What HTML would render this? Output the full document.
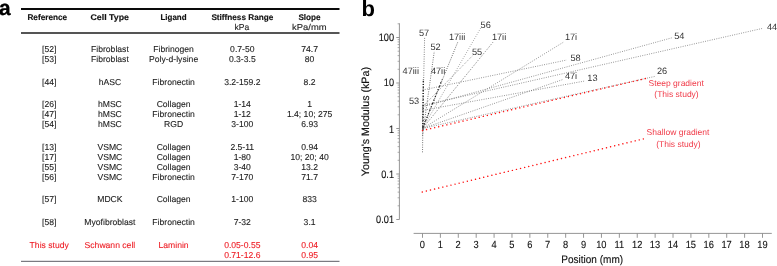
<!DOCTYPE html>
<html><head><meta charset="utf-8"><style>html,body{margin:0;padding:0;background:#fff;}svg{display:block;will-change:transform;text-rendering:geometricPrecision;font-family:"Liberation Sans",sans-serif;}</style></head>
<body>
<svg width="777" height="266" viewBox="0 0 777 266" font-family="Liberation Sans, sans-serif">
<rect width="777" height="266" fill="#fff"/>
<text x="-1.0" y="15.1" font-size="20.9" font-weight="bold" fill="#000" stroke="#000" stroke-width="0.3">a</text>
<text x="361.6" y="15.8" font-size="22" font-weight="bold" fill="#000">b</text>
<rect x="21" y="8" width="318.5" height="2" fill="#0a0a0a"/>
<rect x="21" y="32" width="318.5" height="2" fill="#555"/>
<rect x="21" y="260.8" width="318.5" height="1.1" fill="#6c6c74"/>
<text x="27.40" y="19.9" font-size="8.2" font-weight="bold" fill="#111" stroke="#111" stroke-width="0.15" textLength="39.76" lengthAdjust="spacingAndGlyphs">Reference</text>
<text x="90.48" y="19.9" font-size="8.2" font-weight="bold" fill="#111" stroke="#111" stroke-width="0.15" textLength="38.50" lengthAdjust="spacingAndGlyphs">Cell Type</text>
<text x="160.52" y="19.9" font-size="8.2" font-weight="bold" fill="#111" stroke="#111" stroke-width="0.15" textLength="26.04" lengthAdjust="spacingAndGlyphs">Ligand</text>
<text x="211.40" y="19.9" font-size="8.2" font-weight="bold" fill="#111" stroke="#111" stroke-width="0.15" textLength="61.87" lengthAdjust="spacingAndGlyphs">Stiffness Range</text>
<text x="298.40" y="19.9" font-size="8.2" font-weight="bold" fill="#111" stroke="#111" stroke-width="0.15" textLength="22.22" lengthAdjust="spacingAndGlyphs">Slope</text>
<text x="234.50" y="29.7" font-size="8.6" font-weight="normal" fill="#222" stroke="#222" stroke-width="0.1" textLength="14.72" lengthAdjust="spacingAndGlyphs">kPa</text>
<text x="292.14" y="29.7" font-size="8.6" font-weight="normal" fill="#222" stroke="#222" stroke-width="0.1" textLength="34.55" lengthAdjust="spacingAndGlyphs">kPa/mm</text>
<text x="49.2" y="51.8" font-size="8.6" fill="#222" stroke="#222" stroke-width="0.1" text-anchor="middle">[52]</text>
<text x="109.9" y="51.8" font-size="8.6" fill="#222" stroke="#222" stroke-width="0.1" text-anchor="middle">Fibroblast</text>
<text x="173.6" y="51.8" font-size="8.6" fill="#222" stroke="#222" stroke-width="0.1" text-anchor="middle">Fibrinogen</text>
<text x="242.3" y="51.8" font-size="8.6" fill="#222" stroke="#222" stroke-width="0.1" text-anchor="middle">0.7-50</text>
<text x="309.6" y="51.8" font-size="8.6" fill="#222" stroke="#222" stroke-width="0.1" text-anchor="middle">74.7</text>
<text x="49.2" y="61.6" font-size="8.6" fill="#222" stroke="#222" stroke-width="0.1" text-anchor="middle">[53]</text>
<text x="109.9" y="61.6" font-size="8.6" fill="#222" stroke="#222" stroke-width="0.1" text-anchor="middle">Fibroblast</text>
<text x="173.6" y="61.6" font-size="8.6" fill="#222" stroke="#222" stroke-width="0.1" text-anchor="middle">Poly-d-lysine</text>
<text x="242.3" y="61.6" font-size="8.6" fill="#222" stroke="#222" stroke-width="0.1" text-anchor="middle">0.3-3.5</text>
<text x="309.6" y="61.6" font-size="8.6" fill="#222" stroke="#222" stroke-width="0.1" text-anchor="middle">80</text>
<text x="49.2" y="84.8" font-size="8.6" fill="#222" stroke="#222" stroke-width="0.1" text-anchor="middle">[44]</text>
<text x="109.9" y="84.8" font-size="8.6" fill="#222" stroke="#222" stroke-width="0.1" text-anchor="middle">hASC</text>
<text x="173.6" y="84.8" font-size="8.6" fill="#222" stroke="#222" stroke-width="0.1" text-anchor="middle">Fibronectin</text>
<text x="242.3" y="84.8" font-size="8.6" fill="#222" stroke="#222" stroke-width="0.1" text-anchor="middle">3.2-159.2</text>
<text x="309.6" y="84.8" font-size="8.6" fill="#222" stroke="#222" stroke-width="0.1" text-anchor="middle">8.2</text>
<text x="49.2" y="106.6" font-size="8.6" fill="#222" stroke="#222" stroke-width="0.1" text-anchor="middle">[26]</text>
<text x="109.9" y="106.6" font-size="8.6" fill="#222" stroke="#222" stroke-width="0.1" text-anchor="middle">hMSC</text>
<text x="173.6" y="106.6" font-size="8.6" fill="#222" stroke="#222" stroke-width="0.1" text-anchor="middle">Collagen</text>
<text x="242.3" y="106.6" font-size="8.6" fill="#222" stroke="#222" stroke-width="0.1" text-anchor="middle">1-14</text>
<text x="309.6" y="106.6" font-size="8.6" fill="#222" stroke="#222" stroke-width="0.1" text-anchor="middle">1</text>
<text x="49.2" y="116.5" font-size="8.6" fill="#222" stroke="#222" stroke-width="0.1" text-anchor="middle">[47]</text>
<text x="109.9" y="116.5" font-size="8.6" fill="#222" stroke="#222" stroke-width="0.1" text-anchor="middle">hMSC</text>
<text x="173.6" y="116.5" font-size="8.6" fill="#222" stroke="#222" stroke-width="0.1" text-anchor="middle">Fibronectin</text>
<text x="242.3" y="116.5" font-size="8.6" fill="#222" stroke="#222" stroke-width="0.1" text-anchor="middle">1-12</text>
<text x="309.6" y="116.5" font-size="8.6" fill="#222" stroke="#222" stroke-width="0.1" text-anchor="middle">1.4; 10; 275</text>
<text x="49.2" y="126.9" font-size="8.6" fill="#222" stroke="#222" stroke-width="0.1" text-anchor="middle">[54]</text>
<text x="109.9" y="126.9" font-size="8.6" fill="#222" stroke="#222" stroke-width="0.1" text-anchor="middle">hMSC</text>
<text x="173.6" y="126.9" font-size="8.6" fill="#222" stroke="#222" stroke-width="0.1" text-anchor="middle">RGD</text>
<text x="242.3" y="126.9" font-size="8.6" fill="#222" stroke="#222" stroke-width="0.1" text-anchor="middle">3-100</text>
<text x="309.6" y="126.9" font-size="8.6" fill="#222" stroke="#222" stroke-width="0.1" text-anchor="middle">6.93</text>
<text x="49.2" y="149.5" font-size="8.6" fill="#222" stroke="#222" stroke-width="0.1" text-anchor="middle">[13]</text>
<text x="109.9" y="149.5" font-size="8.6" fill="#222" stroke="#222" stroke-width="0.1" text-anchor="middle">VSMC</text>
<text x="173.6" y="149.5" font-size="8.6" fill="#222" stroke="#222" stroke-width="0.1" text-anchor="middle">Collagen</text>
<text x="242.3" y="149.5" font-size="8.6" fill="#222" stroke="#222" stroke-width="0.1" text-anchor="middle">2.5-11</text>
<text x="309.6" y="149.5" font-size="8.6" fill="#222" stroke="#222" stroke-width="0.1" text-anchor="middle">0.94</text>
<text x="49.2" y="160.2" font-size="8.6" fill="#222" stroke="#222" stroke-width="0.1" text-anchor="middle">[17]</text>
<text x="109.9" y="160.2" font-size="8.6" fill="#222" stroke="#222" stroke-width="0.1" text-anchor="middle">VSMC</text>
<text x="173.6" y="160.2" font-size="8.6" fill="#222" stroke="#222" stroke-width="0.1" text-anchor="middle">Collagen</text>
<text x="242.3" y="160.2" font-size="8.6" fill="#222" stroke="#222" stroke-width="0.1" text-anchor="middle">1-80</text>
<text x="309.6" y="160.2" font-size="8.6" fill="#222" stroke="#222" stroke-width="0.1" text-anchor="middle">10; 20; 40</text>
<text x="49.2" y="170.1" font-size="8.6" fill="#222" stroke="#222" stroke-width="0.1" text-anchor="middle">[55]</text>
<text x="109.9" y="170.1" font-size="8.6" fill="#222" stroke="#222" stroke-width="0.1" text-anchor="middle">VSMC</text>
<text x="173.6" y="170.1" font-size="8.6" fill="#222" stroke="#222" stroke-width="0.1" text-anchor="middle">Collagen</text>
<text x="242.3" y="170.1" font-size="8.6" fill="#222" stroke="#222" stroke-width="0.1" text-anchor="middle">3-40</text>
<text x="309.6" y="170.1" font-size="8.6" fill="#222" stroke="#222" stroke-width="0.1" text-anchor="middle">13.2</text>
<text x="49.2" y="180.1" font-size="8.6" fill="#222" stroke="#222" stroke-width="0.1" text-anchor="middle">[56]</text>
<text x="109.9" y="180.1" font-size="8.6" fill="#222" stroke="#222" stroke-width="0.1" text-anchor="middle">VSMC</text>
<text x="173.6" y="180.1" font-size="8.6" fill="#222" stroke="#222" stroke-width="0.1" text-anchor="middle">Fibronectin</text>
<text x="242.3" y="180.1" font-size="8.6" fill="#222" stroke="#222" stroke-width="0.1" text-anchor="middle">7-170</text>
<text x="309.6" y="180.1" font-size="8.6" fill="#222" stroke="#222" stroke-width="0.1" text-anchor="middle">71.7</text>
<text x="49.2" y="202.1" font-size="8.6" fill="#222" stroke="#222" stroke-width="0.1" text-anchor="middle">[57]</text>
<text x="109.9" y="202.1" font-size="8.6" fill="#222" stroke="#222" stroke-width="0.1" text-anchor="middle">MDCK</text>
<text x="173.6" y="202.1" font-size="8.6" fill="#222" stroke="#222" stroke-width="0.1" text-anchor="middle">Collagen</text>
<text x="242.3" y="202.1" font-size="8.6" fill="#222" stroke="#222" stroke-width="0.1" text-anchor="middle">1-100</text>
<text x="309.6" y="202.1" font-size="8.6" fill="#222" stroke="#222" stroke-width="0.1" text-anchor="middle">833</text>
<text x="49.2" y="225.2" font-size="8.6" fill="#222" stroke="#222" stroke-width="0.1" text-anchor="middle">[58]</text>
<text x="109.9" y="225.2" font-size="8.6" fill="#222" stroke="#222" stroke-width="0.1" text-anchor="middle">Myofibroblast</text>
<text x="173.6" y="225.2" font-size="8.6" fill="#222" stroke="#222" stroke-width="0.1" text-anchor="middle">Fibronectin</text>
<text x="242.3" y="225.2" font-size="8.6" fill="#222" stroke="#222" stroke-width="0.1" text-anchor="middle">7-32</text>
<text x="309.6" y="225.2" font-size="8.6" fill="#222" stroke="#222" stroke-width="0.1" text-anchor="middle">3.1</text>
<text x="49.2" y="248.2" font-size="8.6" fill="#ee1c24" stroke="#ee1c24" stroke-width="0.1" text-anchor="middle">This study</text>
<text x="109.9" y="248.2" font-size="8.6" fill="#ee1c24" stroke="#ee1c24" stroke-width="0.1" text-anchor="middle">Schwann cell</text>
<text x="173.6" y="248.2" font-size="8.6" fill="#ee1c24" stroke="#ee1c24" stroke-width="0.1" text-anchor="middle">Laminin</text>
<text x="242.3" y="248.2" font-size="8.6" fill="#ee1c24" stroke="#ee1c24" stroke-width="0.1" text-anchor="middle">0.05-0.55</text>
<text x="309.6" y="248.2" font-size="8.6" fill="#ee1c24" stroke="#ee1c24" stroke-width="0.1" text-anchor="middle">0.04</text>
<text x="242.3" y="258.0" font-size="8.6" fill="#ee1c24" stroke="#ee1c24" stroke-width="0.1" text-anchor="middle">0.71-12.6</text>
<text x="309.6" y="258.0" font-size="8.6" fill="#ee1c24" stroke="#ee1c24" stroke-width="0.1" text-anchor="middle">0.95</text>
<line x1="399.4" y1="23.3" x2="399.4" y2="219.5" stroke="#8a8a8a" stroke-width="0.9"/>
<line x1="396.3" y1="219.50" x2="399.4" y2="219.50" stroke="#8a8a8a" stroke-width="0.9"/>
<line x1="397.6" y1="205.80" x2="399.4" y2="205.80" stroke="#8a8a8a" stroke-width="0.7"/>
<line x1="397.6" y1="197.79" x2="399.4" y2="197.79" stroke="#8a8a8a" stroke-width="0.7"/>
<line x1="397.6" y1="192.11" x2="399.4" y2="192.11" stroke="#8a8a8a" stroke-width="0.7"/>
<line x1="397.6" y1="187.70" x2="399.4" y2="187.70" stroke="#8a8a8a" stroke-width="0.7"/>
<line x1="397.6" y1="184.09" x2="399.4" y2="184.09" stroke="#8a8a8a" stroke-width="0.7"/>
<line x1="397.6" y1="181.05" x2="399.4" y2="181.05" stroke="#8a8a8a" stroke-width="0.7"/>
<line x1="397.6" y1="178.41" x2="399.4" y2="178.41" stroke="#8a8a8a" stroke-width="0.7"/>
<line x1="397.6" y1="176.08" x2="399.4" y2="176.08" stroke="#8a8a8a" stroke-width="0.7"/>
<line x1="396.3" y1="174.00" x2="399.4" y2="174.00" stroke="#8a8a8a" stroke-width="0.9"/>
<line x1="397.6" y1="160.30" x2="399.4" y2="160.30" stroke="#8a8a8a" stroke-width="0.7"/>
<line x1="397.6" y1="152.29" x2="399.4" y2="152.29" stroke="#8a8a8a" stroke-width="0.7"/>
<line x1="397.6" y1="146.61" x2="399.4" y2="146.61" stroke="#8a8a8a" stroke-width="0.7"/>
<line x1="397.6" y1="142.20" x2="399.4" y2="142.20" stroke="#8a8a8a" stroke-width="0.7"/>
<line x1="397.6" y1="138.59" x2="399.4" y2="138.59" stroke="#8a8a8a" stroke-width="0.7"/>
<line x1="397.6" y1="135.55" x2="399.4" y2="135.55" stroke="#8a8a8a" stroke-width="0.7"/>
<line x1="397.6" y1="132.91" x2="399.4" y2="132.91" stroke="#8a8a8a" stroke-width="0.7"/>
<line x1="397.6" y1="130.58" x2="399.4" y2="130.58" stroke="#8a8a8a" stroke-width="0.7"/>
<line x1="396.3" y1="128.50" x2="399.4" y2="128.50" stroke="#8a8a8a" stroke-width="0.9"/>
<line x1="397.6" y1="114.80" x2="399.4" y2="114.80" stroke="#8a8a8a" stroke-width="0.7"/>
<line x1="397.6" y1="106.79" x2="399.4" y2="106.79" stroke="#8a8a8a" stroke-width="0.7"/>
<line x1="397.6" y1="101.11" x2="399.4" y2="101.11" stroke="#8a8a8a" stroke-width="0.7"/>
<line x1="397.6" y1="96.70" x2="399.4" y2="96.70" stroke="#8a8a8a" stroke-width="0.7"/>
<line x1="397.6" y1="93.09" x2="399.4" y2="93.09" stroke="#8a8a8a" stroke-width="0.7"/>
<line x1="397.6" y1="90.05" x2="399.4" y2="90.05" stroke="#8a8a8a" stroke-width="0.7"/>
<line x1="397.6" y1="87.41" x2="399.4" y2="87.41" stroke="#8a8a8a" stroke-width="0.7"/>
<line x1="397.6" y1="85.08" x2="399.4" y2="85.08" stroke="#8a8a8a" stroke-width="0.7"/>
<line x1="396.3" y1="83.00" x2="399.4" y2="83.00" stroke="#8a8a8a" stroke-width="0.9"/>
<line x1="397.6" y1="69.30" x2="399.4" y2="69.30" stroke="#8a8a8a" stroke-width="0.7"/>
<line x1="397.6" y1="61.29" x2="399.4" y2="61.29" stroke="#8a8a8a" stroke-width="0.7"/>
<line x1="397.6" y1="55.61" x2="399.4" y2="55.61" stroke="#8a8a8a" stroke-width="0.7"/>
<line x1="397.6" y1="51.20" x2="399.4" y2="51.20" stroke="#8a8a8a" stroke-width="0.7"/>
<line x1="397.6" y1="47.59" x2="399.4" y2="47.59" stroke="#8a8a8a" stroke-width="0.7"/>
<line x1="397.6" y1="44.55" x2="399.4" y2="44.55" stroke="#8a8a8a" stroke-width="0.7"/>
<line x1="397.6" y1="41.91" x2="399.4" y2="41.91" stroke="#8a8a8a" stroke-width="0.7"/>
<line x1="397.6" y1="39.58" x2="399.4" y2="39.58" stroke="#8a8a8a" stroke-width="0.7"/>
<line x1="396.3" y1="37.50" x2="399.4" y2="37.50" stroke="#8a8a8a" stroke-width="0.9"/>
<line x1="397.6" y1="23.80" x2="399.4" y2="23.80" stroke="#8a8a8a" stroke-width="0.7"/>
<text transform="translate(394.0,40.50) scale(0.86,1)" font-size="10.7" fill="#111" stroke="#111" stroke-width="0.12" text-anchor="end">100</text>
<text transform="translate(394.0,86.40) scale(0.86,1)" font-size="10.7" fill="#111" stroke="#111" stroke-width="0.12" text-anchor="end">10</text>
<text transform="translate(394.0,132.50) scale(0.86,1)" font-size="10.7" fill="#111" stroke="#111" stroke-width="0.12" text-anchor="end">1</text>
<text transform="translate(394.0,178.00) scale(0.86,1)" font-size="10.7" fill="#111" stroke="#111" stroke-width="0.12" text-anchor="end">0.1</text>
<text transform="translate(394.0,222.90) scale(0.86,1)" font-size="10.7" fill="#111" stroke="#111" stroke-width="0.12" text-anchor="end">0.01</text>
<line x1="413.6" y1="233.4" x2="771.8" y2="233.4" stroke="#8a8a8a" stroke-width="0.9"/>
<line x1="422.50" y1="233.4" x2="422.50" y2="237.8" stroke="#8a8a8a" stroke-width="0.9"/>
<text transform="translate(422.40,248.2) scale(0.9,1)" font-size="10.3" fill="#111" stroke="#111" stroke-width="0.12" text-anchor="middle">0</text>
<line x1="440.39" y1="233.4" x2="440.39" y2="237.8" stroke="#8a8a8a" stroke-width="0.9"/>
<text transform="translate(440.29,248.2) scale(0.9,1)" font-size="10.3" fill="#111" stroke="#111" stroke-width="0.12" text-anchor="middle">1</text>
<line x1="458.29" y1="233.4" x2="458.29" y2="237.8" stroke="#8a8a8a" stroke-width="0.9"/>
<text transform="translate(458.19,248.2) scale(0.9,1)" font-size="10.3" fill="#111" stroke="#111" stroke-width="0.12" text-anchor="middle">2</text>
<line x1="476.19" y1="233.4" x2="476.19" y2="237.8" stroke="#8a8a8a" stroke-width="0.9"/>
<text transform="translate(476.08,248.2) scale(0.9,1)" font-size="10.3" fill="#111" stroke="#111" stroke-width="0.12" text-anchor="middle">3</text>
<line x1="494.08" y1="233.4" x2="494.08" y2="237.8" stroke="#8a8a8a" stroke-width="0.9"/>
<text transform="translate(493.98,248.2) scale(0.9,1)" font-size="10.3" fill="#111" stroke="#111" stroke-width="0.12" text-anchor="middle">4</text>
<line x1="511.98" y1="233.4" x2="511.98" y2="237.8" stroke="#8a8a8a" stroke-width="0.9"/>
<text transform="translate(511.88,248.2) scale(0.9,1)" font-size="10.3" fill="#111" stroke="#111" stroke-width="0.12" text-anchor="middle">5</text>
<line x1="529.87" y1="233.4" x2="529.87" y2="237.8" stroke="#8a8a8a" stroke-width="0.9"/>
<text transform="translate(529.77,248.2) scale(0.9,1)" font-size="10.3" fill="#111" stroke="#111" stroke-width="0.12" text-anchor="middle">6</text>
<line x1="547.76" y1="233.4" x2="547.76" y2="237.8" stroke="#8a8a8a" stroke-width="0.9"/>
<text transform="translate(547.66,248.2) scale(0.9,1)" font-size="10.3" fill="#111" stroke="#111" stroke-width="0.12" text-anchor="middle">7</text>
<line x1="565.66" y1="233.4" x2="565.66" y2="237.8" stroke="#8a8a8a" stroke-width="0.9"/>
<text transform="translate(565.56,248.2) scale(0.9,1)" font-size="10.3" fill="#111" stroke="#111" stroke-width="0.12" text-anchor="middle">8</text>
<line x1="583.56" y1="233.4" x2="583.56" y2="237.8" stroke="#8a8a8a" stroke-width="0.9"/>
<text transform="translate(583.46,248.2) scale(0.9,1)" font-size="10.3" fill="#111" stroke="#111" stroke-width="0.12" text-anchor="middle">9</text>
<line x1="601.45" y1="233.4" x2="601.45" y2="237.8" stroke="#8a8a8a" stroke-width="0.9"/>
<text transform="translate(601.35,248.2) scale(0.9,1)" font-size="10.3" fill="#111" stroke="#111" stroke-width="0.12" text-anchor="middle">10</text>
<line x1="619.35" y1="233.4" x2="619.35" y2="237.8" stroke="#8a8a8a" stroke-width="0.9"/>
<text transform="translate(619.25,248.2) scale(0.9,1)" font-size="10.3" fill="#111" stroke="#111" stroke-width="0.12" text-anchor="middle">11</text>
<line x1="637.24" y1="233.4" x2="637.24" y2="237.8" stroke="#8a8a8a" stroke-width="0.9"/>
<text transform="translate(637.14,248.2) scale(0.9,1)" font-size="10.3" fill="#111" stroke="#111" stroke-width="0.12" text-anchor="middle">12</text>
<line x1="655.13" y1="233.4" x2="655.13" y2="237.8" stroke="#8a8a8a" stroke-width="0.9"/>
<text transform="translate(655.03,248.2) scale(0.9,1)" font-size="10.3" fill="#111" stroke="#111" stroke-width="0.12" text-anchor="middle">13</text>
<line x1="673.03" y1="233.4" x2="673.03" y2="237.8" stroke="#8a8a8a" stroke-width="0.9"/>
<text transform="translate(672.93,248.2) scale(0.9,1)" font-size="10.3" fill="#111" stroke="#111" stroke-width="0.12" text-anchor="middle">14</text>
<line x1="690.92" y1="233.4" x2="690.92" y2="237.8" stroke="#8a8a8a" stroke-width="0.9"/>
<text transform="translate(690.82,248.2) scale(0.9,1)" font-size="10.3" fill="#111" stroke="#111" stroke-width="0.12" text-anchor="middle">15</text>
<line x1="708.82" y1="233.4" x2="708.82" y2="237.8" stroke="#8a8a8a" stroke-width="0.9"/>
<text transform="translate(708.72,248.2) scale(0.9,1)" font-size="10.3" fill="#111" stroke="#111" stroke-width="0.12" text-anchor="middle">16</text>
<line x1="726.71" y1="233.4" x2="726.71" y2="237.8" stroke="#8a8a8a" stroke-width="0.9"/>
<text transform="translate(726.61,248.2) scale(0.9,1)" font-size="10.3" fill="#111" stroke="#111" stroke-width="0.12" text-anchor="middle">17</text>
<line x1="744.61" y1="233.4" x2="744.61" y2="237.8" stroke="#8a8a8a" stroke-width="0.9"/>
<text transform="translate(744.51,248.2) scale(0.9,1)" font-size="10.3" fill="#111" stroke="#111" stroke-width="0.12" text-anchor="middle">18</text>
<line x1="762.50" y1="233.4" x2="762.50" y2="237.8" stroke="#8a8a8a" stroke-width="0.9"/>
<text transform="translate(762.40,248.2) scale(0.9,1)" font-size="10.3" fill="#111" stroke="#111" stroke-width="0.12" text-anchor="middle">19</text>
<text transform="translate(561.3,263.2) scale(0.92,1)" font-size="10.9" fill="#111" stroke="#111" stroke-width="0.12">Position (mm)</text>
<text transform="translate(369.3,176.2) rotate(-90)" x="0" y="0" font-size="10.7" fill="#111" stroke="#111" stroke-width="0.15">Young's Modulus (kPa)</text>
<line x1="422.50" y1="128.50" x2="424.63" y2="37.50" stroke="#555" stroke-width="0.8" stroke-dasharray="0.9 1.4"/>
<line x1="422.50" y1="135.55" x2="434.31" y2="51.20" stroke="#444" stroke-width="0.8" stroke-dasharray="0.9 1.4"/>
<line x1="422.50" y1="128.50" x2="457.84" y2="41.91" stroke="#333" stroke-width="0.8" stroke-dasharray="0.9 1.4"/>
<line x1="422.50" y1="128.50" x2="480.84" y2="27.85" stroke="#888" stroke-width="0.8" stroke-dasharray="0.9 1.4"/>
<line x1="422.50" y1="106.79" x2="472.61" y2="55.61" stroke="#707070" stroke-width="0.8" stroke-dasharray="0.9 1.4"/>
<line x1="422.50" y1="128.50" x2="493.19" y2="41.91" stroke="#555" stroke-width="0.8" stroke-dasharray="0.9 1.4"/>
<line x1="422.50" y1="128.50" x2="563.87" y2="41.91" stroke="#707070" stroke-width="0.8" stroke-dasharray="0.9 1.4"/>
<line x1="422.50" y1="128.50" x2="423.22" y2="79.40" stroke="#333" stroke-width="0.8" stroke-dasharray="0.9 1.4"/>
<line x1="422.50" y1="128.50" x2="442.18" y2="79.40" stroke="#707070" stroke-width="0.8" stroke-dasharray="0.9 1.4"/>
<line x1="422.50" y1="128.50" x2="563.15" y2="79.40" stroke="#707070" stroke-width="0.8" stroke-dasharray="0.9 1.4"/>
<line x1="422.50" y1="152.29" x2="423.22" y2="103.74" stroke="#444" stroke-width="0.8" stroke-dasharray="0.9 1.4"/>
<line x1="422.50" y1="106.79" x2="673.03" y2="37.50" stroke="#707070" stroke-width="0.8" stroke-dasharray="0.9 1.4"/>
<line x1="422.50" y1="105.52" x2="762.86" y2="28.31" stroke="#707070" stroke-width="0.8" stroke-dasharray="0.9 1.4"/>
<line x1="422.50" y1="90.05" x2="566.73" y2="60.02" stroke="#707070" stroke-width="0.8" stroke-dasharray="0.9 1.4"/>
<line x1="422.50" y1="110.39" x2="584.27" y2="81.12" stroke="#707070" stroke-width="0.8" stroke-dasharray="0.9 1.4"/>
<line x1="422.50" y1="128.50" x2="655.13" y2="76.35" stroke="#707070" stroke-width="0.8" stroke-dasharray="0.9 1.4"/>
<line x1="423.0" y1="130" x2="423.3" y2="80" stroke="#111" stroke-width="1.1" stroke-dasharray="1.1 1.9"/>
<line x1="422.8" y1="128" x2="442.2" y2="79.4" stroke="#111" stroke-width="1.1" stroke-dasharray="1.1 2.6"/>
<line x1="422.5" y1="130.5" x2="646.5" y2="78.3" stroke="#ff1010" stroke-width="1.45" stroke-linecap="round" stroke-dasharray="0.01 4.15"/>
<line x1="422.3" y1="192" x2="645" y2="138.5" stroke="#ff1010" stroke-width="1.45" stroke-linecap="round" stroke-dasharray="0.01 4.2"/>
<text x="418.90" y="35.80" font-size="9.2" fill="#333">57</text>
<text x="430.40" y="50.00" font-size="9.2" fill="#333">52</text>
<text x="448.90" y="40.00" font-size="9.2" fill="#333">17iii</text>
<text x="480.60" y="27.50" font-size="9.2" fill="#333">56</text>
<text x="471.90" y="54.50" font-size="9.2" fill="#333">55</text>
<text x="491.90" y="40.00" font-size="9.2" fill="#333">17ii</text>
<text x="402.60" y="74.30" font-size="9.2" fill="#333">47iii</text>
<text x="430.90" y="74.30" font-size="9.2" fill="#333">47ii</text>
<text x="408.90" y="103.80" font-size="9.2" fill="#333">53</text>
<text x="564.90" y="40.30" font-size="9.2" fill="#333">17i</text>
<text x="674.20" y="39.20" font-size="9.2" fill="#333">54</text>
<text x="767.00" y="29.80" font-size="9.2" fill="#333">44</text>
<text x="570.40" y="61.20" font-size="9.2" fill="#333">58</text>
<text x="564.90" y="79.40" font-size="9.2" fill="#333">47i</text>
<text x="587.30" y="81.00" font-size="9.2" fill="#333">13</text>
<text x="656.90" y="74.00" font-size="9.2" fill="#333">26</text>
<text x="648.5" y="85.8" font-size="8.5" fill="#f03a48">Steep gradient</text>
<text x="654.3" y="96.5" font-size="8.5" fill="#f03a48">(This study)</text>
<text x="646.6" y="134.8" font-size="8.5" fill="#f03a48">Shallow gradient</text>
<text x="656.2" y="147.0" font-size="8.5" fill="#f03a48">(This study)</text>
</svg>
</body></html>
